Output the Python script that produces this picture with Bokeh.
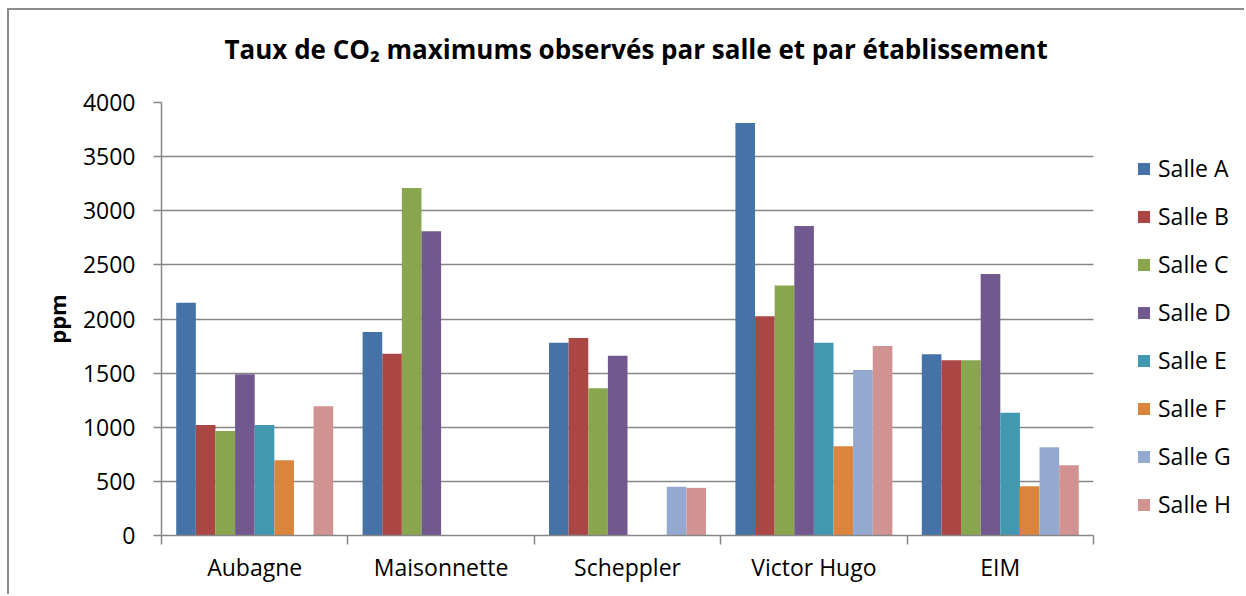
from bokeh.plotting import figure
from bokeh.models import (ColumnDataSource, Range1d, FixedTicker, SingleIntervalTicker,
                          Legend, LegendItem, Title)
from bokeh.transform import dodge
from bokeh.embed import file_html
from bokeh.resources import INLINE

# ---- data ----
categories = ["Aubagne", "Maisonnette", "Scheppler", "Victor Hugo", "EIM"]
series_names = ["Salle A", "Salle B", "Salle C", "Salle D", "Salle E", "Salle F", "Salle G", "Salle H"]
salle_a = [2150, 1880, 1780, 3810, 1675]
salle_b = [1020, 1680, 1825, 2025, 1620]
salle_c = [965, 3210, 1360, 2310, 1620]
salle_d = [1490, 2810, 1660, 2860, 2415]
salle_e = [1020, 0, 0, 1780, 1135]
salle_f = [695, 0, 0, 825, 455]
salle_g = [0, 0, 450, 1530, 815]
salle_h = [1195, 0, 440, 1750, 650]
colors = ["#4572A7", "#AA4643", "#89A54E", "#71588F", "#4198AF", "#DB843D", "#93A9CF", "#D19392"]
y_max = 4000
y_ticks_interval = 500
title_text = "Taux de CO\u2082 maximums observés par salle et par établissement"

series_values = [salle_a, salle_b, salle_c, salle_d, salle_e, salle_f, salle_g, salle_h]

ncat = len(categories)
centers = [i + 0.5 for i in range(ncat)]
boundaries = [float(i) for i in range(ncat + 1)]

data = {"x": centers}
for name, vals in zip(series_names, series_values):
    data[name] = vals
source = ColumnDataSource(data)

FONT = "Open Sans"
GRID = "#878787"

# layout (pixels)
W, H = 1237, 586
LEFT, TOP, BOTTOM = 152, 92, 61
frame_w = W - LEFT                 # frame runs to the right edge (legend lives there)
axis_w = 932                       # pixel width of the category axis
x_end = ncat * frame_w / axis_w

p = figure(width=W, height=H, output_backend="svg", toolbar_location=None,
           x_range=Range1d(0, x_end), y_range=Range1d(0, y_max),
           min_border_left=LEFT, min_border_right=0, min_border_top=TOP, min_border_bottom=BOTTOM,
           styles={"margin-left": "7px", "margin-top": "8px",
                   "border-left": "2px solid #8c8c8c", "border-top": "2px solid #8c8c8c"})
p.outline_line_color = None
p.background_fill_color = "white"
p.border_fill_color = "white"

n = len(series_names)
bar_w = 1.0 / (n + 1.5)
renderers = []
for j, (name, col) in enumerate(zip(series_names, colors)):
    off = (j - (n - 1) / 2) * bar_w
    r = p.vbar(x=dodge("x", off, range=p.x_range), top=name, width=bar_w,
               source=source, fill_color=col, line_color=None)
    renderers.append(r)

# title: a thin spacer next to the frame, then the title text above it
spacer = Title(text=" ", text_font_size="1px", standoff=33)
p.add_layout(spacer, "above")
title = Title(text=title_text, align="left", offset=63, standoff=0,
              text_font=FONT, text_font_size="26px", text_font_style="bold",
              text_color="black")
p.add_layout(title, "above")

# grid
p.xgrid.visible = False
p.ygrid.grid_line_color = GRID
p.ygrid.grid_line_width = 1.5
p.ygrid.cross_bounds = (0, ncat)

yax = p.yaxis[0]
yax.ticker = SingleIntervalTicker(interval=y_ticks_interval, num_minor_ticks=0)
yax.axis_line_color = GRID
yax.axis_line_width = 1.5
yax.major_tick_line_color = GRID
yax.major_tick_line_width = 1.5
yax.major_tick_out = 8
yax.major_tick_in = 0
yax.minor_tick_line_color = None
yax.major_label_text_font = FONT
yax.major_label_text_font_size = "23px"
yax.major_label_text_color = "black"
yax.major_label_standoff = 18
yax.axis_label = "ppm"
yax.axis_label_text_font = FONT
yax.axis_label_text_font_size = "22px"
yax.axis_label_text_font_style = "bold"
yax.axis_label_text_color = "black"
yax.axis_label_standoff = 8

xax = p.xaxis[0]
xax.bounds = (0, ncat)
xax.ticker = FixedTicker(ticks=centers, minor_ticks=boundaries)
xax.major_label_overrides = {c: cat for c, cat in zip(centers, categories)}
xax.axis_line_color = GRID
xax.axis_line_width = 1.5
xax.major_tick_out = 0
xax.major_tick_in = 0
xax.major_tick_line_color = None
xax.minor_tick_line_color = GRID
xax.minor_tick_line_width = 1.5
xax.minor_tick_out = 9
xax.minor_tick_in = 0
xax.major_label_text_font = FONT
xax.major_label_text_font_size = "23px"
xax.major_label_text_color = "black"
xax.major_label_standoff = 6

legend = Legend(items=[LegendItem(label=nm, renderers=[r]) for nm, r in zip(series_names, renderers)],
                location=(975, 15), orientation="vertical",
                glyph_width=15, glyph_height=15, label_height=32, spacing=16,
                label_standoff=7, padding=0, margin=0,
                border_line_color=None, background_fill_alpha=0,
                label_text_font=FONT, label_text_font_size="23px", label_text_color="black")
p.add_layout(legend, "center")

open("out.html", "w").write(file_html(p, INLINE))
